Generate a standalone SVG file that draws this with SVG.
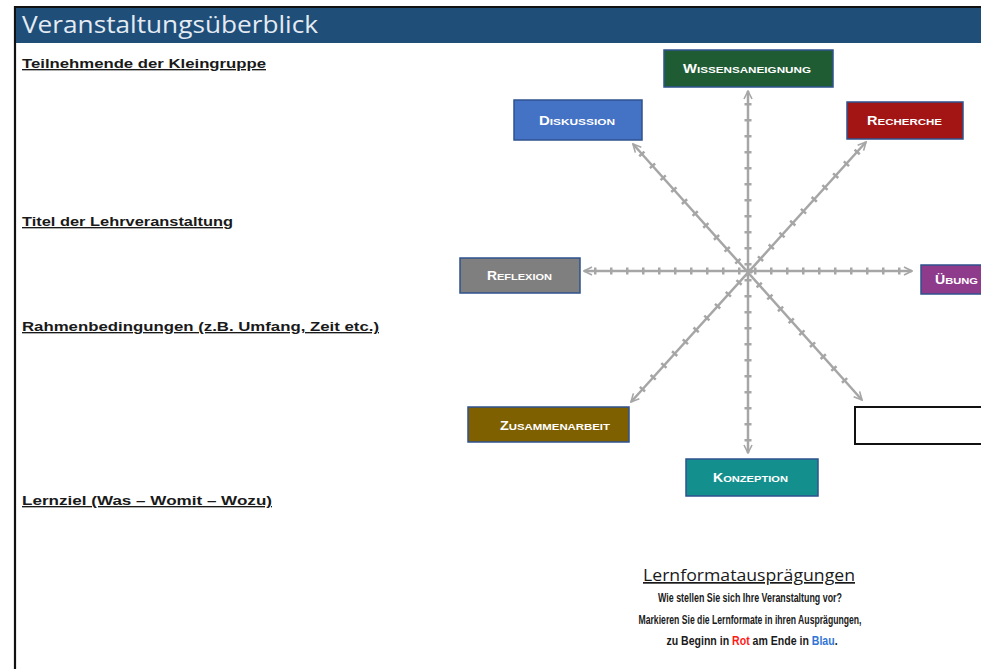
<svg xmlns="http://www.w3.org/2000/svg" width="981" height="669" viewBox="0 0 981 669">
  <defs>
    <style>
      .field { font-family: "Liberation Sans", Arial, sans-serif; font-weight: bold; font-size: 13.5px; fill: #1a1a1a; text-decoration: underline; }
      .node rect { stroke: #2f528f; stroke-width: 1.5; }
      .node text { font-family: "Liberation Sans", Arial, sans-serif; font-weight: bold; fill: #ffffff; font-size: 9.5px; text-anchor: start; }
      .node .cap { font-size: 12px; }
      .axis { stroke: #a6a6a6; stroke-width: 2.5; fill: none; }
      .ticks { stroke: #a6a6a6; stroke-width: 7; stroke-dasharray: 2.5 13.5; fill: none; }
      .note { font-family: "Liberation Sans", Arial, sans-serif; font-weight: bold; font-size: 12.5px; fill: #1a1a1a; text-anchor: middle; }
    </style>
    <marker id="head" viewBox="0 0 10 10" refX="9" refY="5" markerWidth="10" markerHeight="10" markerUnits="userSpaceOnUse" orient="auto-start-reverse">
      <path d="M1,1 L9,5 L1,9" fill="none" stroke="#a6a6a6" stroke-width="1.6"/>
    </marker>
  </defs>

  <rect x="0" y="0" width="981" height="669" fill="#ffffff"/>

  <!-- page frame and title bar -->
  <path d="M15,669 V7 H981" fill="none" stroke="#111111" stroke-width="2.2"/>
  <rect x="16" y="8" width="965" height="35" fill="#1f4e79"/>
  <text x="22" y="33" font-family="'Open Sans', 'Liberation Sans', sans-serif" font-size="24" fill="#e4ebf3" textLength="296" lengthAdjust="spacingAndGlyphs">Veranstaltungsüberblick</text>

  <!-- form fields on the left -->
  <g id="fields">
    <text class="field" x="22" y="68" textLength="244" lengthAdjust="spacingAndGlyphs">Teilnehmende der Kleingruppe</text>
    <text class="field" x="22" y="226" textLength="211" lengthAdjust="spacingAndGlyphs">Titel der Lehrveranstaltung</text>
    <text class="field" x="22" y="331" textLength="357" lengthAdjust="spacingAndGlyphs">Rahmenbedingungen  (z.B. Umfang, Zeit etc.)</text>
    <text class="field" x="22" y="505" textLength="250" lengthAdjust="spacingAndGlyphs">Lernziel (Was – Womit  – Wozu)</text>
  </g>

  <!-- axes of the learning-format star -->
  <g id="connectors">
    <line class="axis" x1="748" y1="91" x2="748" y2="453" marker-start="url(#head)" marker-end="url(#head)"/>
    <line class="ticks" x1="748" y1="103" x2="748" y2="445"/>
    <line class="axis" x1="584" y1="271" x2="912" y2="271" marker-start="url(#head)" marker-end="url(#head)"/>
    <line class="ticks" x1="594" y1="271" x2="904" y2="271"/>
    <line class="axis" x1="633" y1="144" x2="862" y2="400" marker-start="url(#head)" marker-end="url(#head)"/>
    <line class="ticks" x1="641" y1="153" x2="854" y2="391"/>
    <line class="axis" x1="866" y1="142" x2="631" y2="402" marker-start="url(#head)" marker-end="url(#head)"/>
    <line class="ticks" x1="858" y1="151" x2="639" y2="393"/>
  </g>

  <!-- learning formats -->
  <g id="wissensaneignung" class="node">
    <rect x="664" y="50" width="169" height="37" fill="#1f5c34"/>
    <text x="683" y="73" textLength="128" lengthAdjust="spacingAndGlyphs"><tspan class="cap">W</tspan>ISSENSANEIGNUNG</text>
  </g>
  <g id="diskussion" class="node">
    <rect x="514" y="100" width="128" height="40" fill="#4472c4"/>
    <text x="539" y="125" textLength="76" lengthAdjust="spacingAndGlyphs"><tspan class="cap">D</tspan>ISKUSSION</text>
  </g>
  <g id="recherche" class="node">
    <rect x="847" y="102" width="116" height="37" fill="#a31515"/>
    <text x="867" y="125" textLength="75" lengthAdjust="spacingAndGlyphs"><tspan class="cap">R</tspan>ECHERCHE</text>
  </g>
  <g id="reflexion" class="node">
    <rect x="460" y="258" width="120" height="35" fill="#7f7f7f"/>
    <text x="487" y="280" textLength="65" lengthAdjust="spacingAndGlyphs"><tspan class="cap">R</tspan>EFLEXION</text>
  </g>
  <g id="uebung" class="node">
    <rect x="921" y="265" width="90" height="29" fill="#8f3b8c"/>
    <text x="935" y="284" textLength="43" lengthAdjust="spacingAndGlyphs"><tspan class="cap">Ü</tspan>BUNG</text>
  </g>
  <g id="zusammenarbeit" class="node">
    <rect x="468" y="407" width="161" height="35" fill="#7f6000"/>
    <text x="500" y="430" textLength="110" lengthAdjust="spacingAndGlyphs"><tspan class="cap">Z</tspan>USAMMENARBEIT</text>
  </g>
  <g id="konzeption" class="node">
    <rect x="686" y="459" width="132" height="37" fill="#13908e"/>
    <text x="713" y="482" textLength="75" lengthAdjust="spacingAndGlyphs"><tspan class="cap">K</tspan>ONZEPTION</text>
  </g>
  <g id="leer">
    <rect x="855" y="407" width="140" height="37" fill="#ffffff" stroke="#111111" stroke-width="2"/>
  </g>

  <!-- legend -->
  <g id="legende">
    <text x="749" y="581" font-family="'Open Sans', 'Liberation Sans', sans-serif" font-size="17" fill="#1a1a1a" text-anchor="middle" text-decoration="underline" textLength="212" lengthAdjust="spacingAndGlyphs">Lernformatausprägungen</text>
    <text class="note" x="750" y="602" textLength="184" lengthAdjust="spacingAndGlyphs">Wie stellen Sie sich Ihre  Veranstaltung vor?</text>
    <text class="note" x="750" y="624" textLength="223" lengthAdjust="spacingAndGlyphs">Markieren Sie die Lernformate in ihren Ausprägungen,</text>
    <g transform="translate(752,645) scale(0.845,1)">
      <text class="note" x="0" y="0">zu Beginn in <tspan fill="#ff1a1a">Rot</tspan> am Ende in <tspan fill="#2f75d6">Blau</tspan>.</text>
    </g>
  </g>
</svg>
